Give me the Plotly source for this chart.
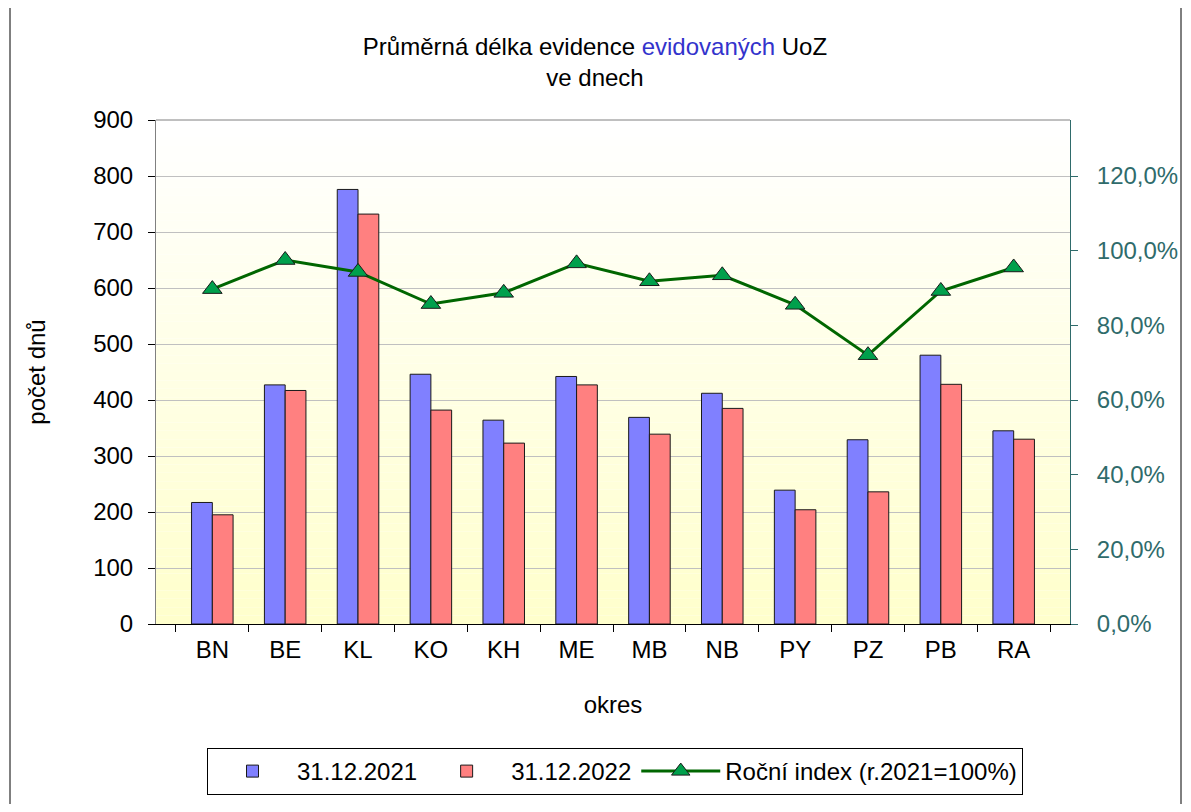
import plotly.graph_objects as go

categories = ["BN", "BE", "KL", "KO", "KH", "ME", "MB", "NB", "PY", "PZ", "PB", "RA"]
values_2021 = [217, 427, 776, 446, 364, 442, 369, 412, 239, 329, 480, 345]
values_2022 = [195, 417, 732, 382, 323, 427, 339, 385, 204, 236, 428, 330]
index_values = [0.897, 0.975, 0.943, 0.857, 0.887, 0.966, 0.918, 0.934, 0.855, 0.720, 0.892, 0.955]
left_ticks = [0, 100, 200, 300, 400, 500, 600, 700, 800, 900]
right_ticks = [0, 0.2, 0.4, 0.6, 0.8, 1.0, 1.2]

OFF = 8  # page body margin
W, H = 1191 - 2 * OFF, 812 - 2 * OFF
L, R, T, B = 156 - OFF, 1070 - OFF, 120 - OFF, 624 - OFF
pw, ph = R - L, B - T

def px_x(x):
    return (x - OFF - L) / pw

def px_y(y):
    return (B - (y - OFF)) / ph

FONT = "Liberation Sans, Arial, sans-serif"
TEAL = "#2F6B6B"
FS = 24

fig = go.Figure()
fig.add_trace(go.Bar(
    x=categories, y=values_2021, name="31.12.2021",
    marker=dict(color="#8080FF", line=dict(color="#1a1a1a", width=1)),
))
fig.add_trace(go.Bar(
    x=categories, y=values_2022, name="31.12.2022",
    marker=dict(color="#FF8080", line=dict(color="#1a1a1a", width=1)),
))
fig.add_trace(go.Scatter(
    x=categories, y=index_values, name="Roční index (r.2021=100%)", yaxis="y2",
    mode="lines+markers",
    line=dict(color="#006600", width=3),
    marker=dict(symbol="triangle-up", size=17, color="#00A04C", line=dict(color="#1a1a1a", width=1)),
))

# gradient background stripes (white top -> light yellow bottom)
shapes = []
N = 60
for i in range(N):
    f = i / (N - 1)
    b = int(round(255 - (255 - 204) * f))
    shapes.append(dict(
        type="rect", xref="paper", yref="paper",
        x0=0, x1=1, y0=1 - (i + 1) / N, y1=1 - i / N,
        fillcolor=f"rgb(255,255,{b})", line=dict(width=0), layer="below",
    ))
# plot area border (top, gray)
shapes.append(dict(type="line", xref="paper", yref="paper", x0=0, x1=1, y0=1, y1=1,
                   line=dict(color="#808080", width=1)))
# outer chart border (left and right edges visible)
for xb in (10, 1181):
    shapes.append(dict(type="line", xref="paper", yref="paper",
                       x0=px_x(xb), x1=px_x(xb), y0=px_y(0), y1=px_y(812),
                       line=dict(color="#000000", width=1)))

fig.update_layout(
    width=W, height=H,
    margin=dict(l=L, r=W - R, t=T, b=H - B, autoexpand=False),
    paper_bgcolor="white",
    plot_bgcolor="rgba(0,0,0,0)",
    font=dict(family=FONT, size=FS, color="black"),
    separators=", ",
    barmode="group",
    bargap=0.43,
    bargroupgap=0,
    title=dict(
        text="Průměrná délka evidence <span style='color:#3333CC'>evidovaných</span> UoZ<br>ve dnech",
        x=(595 - OFF) / W, xref="container", xanchor="center",
        y=1 - (55 - OFF) / H, yref="container", yanchor="middle",
        font=dict(family=FONT, size=FS, color="black"),
    ),
    xaxis=dict(
        type="category",
        showline=True, linecolor="#000000", linewidth=1,
        ticks="outside", tickson="boundaries", ticklen=7, tickcolor="#000000",
        showgrid=False,
        tickfont=dict(size=FS),
        ticklabelstandoff=4,
        title=dict(text="okres", standoff=34, font=dict(size=FS)),
    ),
    yaxis=dict(
        range=[0, 900], tickvals=left_ticks,
        showline=True, linecolor="#808080", linewidth=1,
        ticks="outside", ticklen=7, tickcolor="#000000",
        showgrid=True, gridcolor="#C0C0C0", gridwidth=1,
        zeroline=False,
        tickfont=dict(size=FS),
        ticklabelstandoff=10,
        title=dict(text="počet dnů", standoff=40, font=dict(size=FS)),
    ),
    yaxis2=dict(
        overlaying="y", side="right",
        range=[0, 1.35], tickvals=right_ticks, tickformat=".1%",
        showline=True, linecolor=TEAL, linewidth=1,
        ticks="outside", ticklen=7, tickcolor=TEAL,
        showgrid=False, zeroline=False,
        tickfont=dict(size=FS, color=TEAL),
        ticklabelstandoff=14,
    ),
    legend=dict(
        orientation="h",
        x=px_x(207), xanchor="left",
        y=px_y(748), yanchor="top",
        bordercolor="#000000", borderwidth=1,
        bgcolor="white",
        font=dict(size=FS),
        itemwidth=79,
        traceorder="normal",
    ),
    shapes=shapes,
)

fig.write_html("out.html")
